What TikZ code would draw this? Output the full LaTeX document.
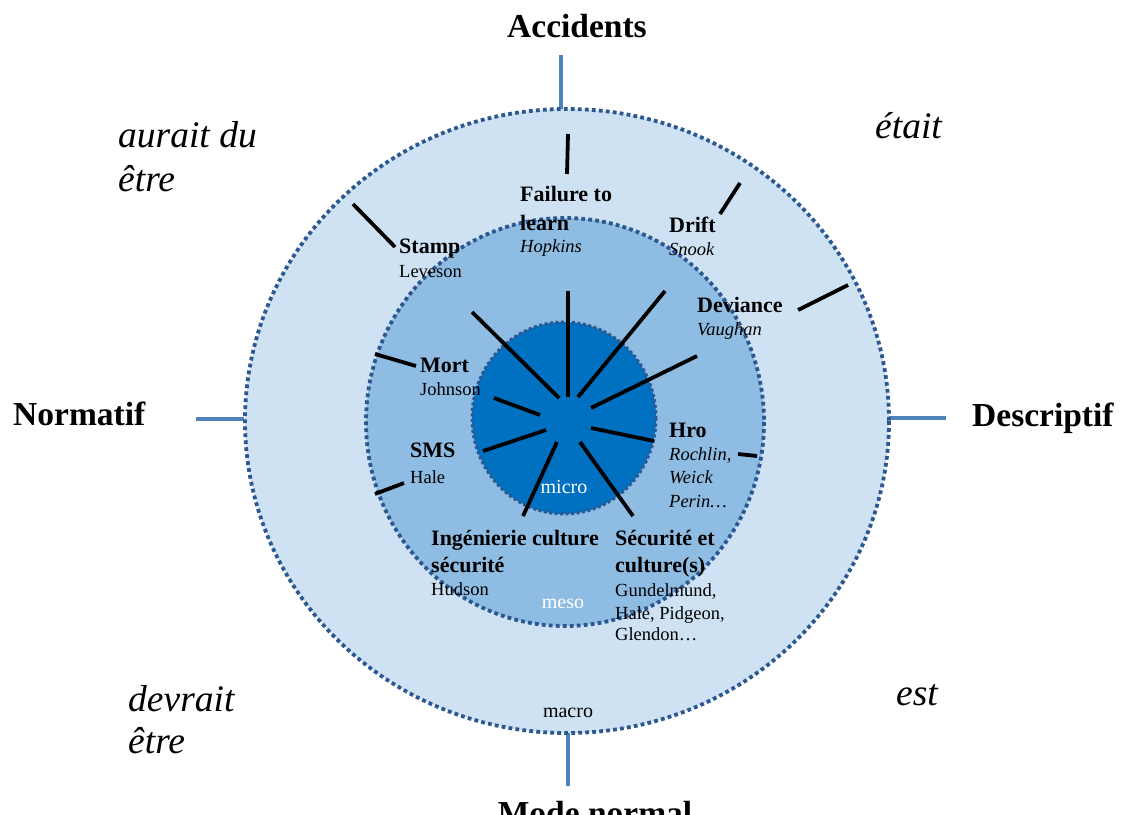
\documentclass[tikz,border=0pt]{standalone}
\usepackage{fontspec}
\setmainfont{Liberation Serif}
\definecolor{ringblue}{RGB}{44,88,145}
\definecolor{axisblue}{RGB}{79,129,189}
\definecolor{outerfill}{RGB}{207,226,243}
\definecolor{midfill}{RGB}{143,188,226}
\definecolor{innerfill}{RGB}{0,112,192}
\tikzset{
  ring/.style={draw=ringblue, line width=3.8pt, dash pattern=on 3.8pt off 3.2pt},
  axisline/.style={draw=axisblue, line width=3.8pt},
  spoke/.style={draw=black, line width=3.8pt},
  big/.style={anchor=base west, inner sep=0pt, font=\fontsize{33.5}{36}\selectfont\bfseries},
  ital/.style={anchor=base west, inner sep=0pt, font=\fontsize{37.5}{40}\selectfont\itshape},
  head/.style={anchor=base west, inner sep=0pt, font=\fontsize{22}{26}\selectfont\bfseries},
  auth/.style={anchor=base west, inner sep=0pt, font=\fontsize{18.5}{22}\selectfont},
  authi/.style={anchor=base west, inner sep=0pt, font=\fontsize{18.5}{22}\selectfont\itshape},
  lvl/.style={anchor=base, inner sep=0pt, font=\fontsize{20}{22}\selectfont},
}
\begin{document}
\begin{tikzpicture}[x=1pt,y=-1pt]
\useasboundingbox (0,0) rectangle (1121,814);
\clip (0,0) rectangle (1121,814);

% axis lines
\coordinate (topA) at (561,55);   \coordinate (topB) at (561,110);
\coordinate (botA) at (568,733);  \coordinate (botB) at (568,786);
\coordinate (lefA) at (196,419);  \coordinate (lefB) at (244,419);
\coordinate (rigA) at (889,418);  \coordinate (rigB) at (946,418);
\draw[axisline] (topA) -- (topB);
\draw[axisline] (botA) -- (botB);
\draw[axisline] (lefA) -- (lefB);
\draw[axisline] (rigA) -- (rigB);

% circles
\draw[ring, fill=outerfill] (567,421) ellipse [x radius=322, y radius=312];
\draw[ring, fill=midfill] (565,422) ellipse [x radius=199, y radius=204];
\draw[ring, fill=innerfill, line width=3pt, dash pattern=on 3pt off 2.5pt] (564,418) ellipse [x radius=92, y radius=96];

% outer spokes
\draw[spoke] (568,134) -- (567,174);
\draw[spoke] (740,183) -- (720,214);
\draw[spoke] (353,204) -- (395,247);
\draw[spoke] (848,285) -- (798,310);
\draw[spoke] (375,354) -- (416,366);
\draw[spoke] (375,494) -- (404,483);
\draw[spoke] (738,454) -- (757,456);

% inner spokes
\draw[spoke] (568,291) -- (568,397);
\draw[spoke] (665,291) -- (578,397);
\draw[spoke] (697,356) -- (591,408);
\draw[spoke] (591,428) -- (654,441);
\draw[spoke] (580,442) -- (633,516);
\draw[spoke] (557,442) -- (523,516);
\draw[spoke] (546,430) -- (483,451);
\draw[spoke] (540,415) -- (494,398);
\draw[spoke] (559,398) -- (472,312);

% big labels
\node[big] (acc) at (507,37) {Accidents};
\node[big] (norm) at (13,425) {Normatif};
\node[big] (desc) at (972,426) {Descriptif};
\node[big, anchor=base] (mode) at (595,824) {Mode normal};

% italic quadrant labels
\node[ital] (aur1) at (118,147) {aurait du};
\node[ital] (aur2) at (118,191) {être};
\node[ital] (etait) at (875,138) {était};
\node[ital] (dev1) at (128,711) {devrait};
\node[ital] (dev2) at (128,753) {être};
\node[ital] (est) at (896,705) {est};

% theories
\node[head] (fail1) at (520,201) {Failure to};
\node[head] (fail2) at (520,230) {learn};
\node[authi] (hopk) at (520,252) {Hopkins};

\node[head] (drift) at (669,232) {Drift};
\node[authi] (snook) at (669,255) {Snook};

\node[head] (stamp) at (399,253) {Stamp};
\node[auth] (leves) at (399,277) {Leveson};

\node[head] (devi) at (697,312) {Deviance};
\node[authi] (vaug) at (697,335) {Vaughan};

\node[head] (mort) at (420,372) {Mort};
\node[auth] (john) at (420,395) {Johnson};

\node[head] (sms) at (410,457) {SMS};
\node[auth] (hale) at (410,483) {Hale};

\node[head] (hro) at (669,437) {Hro};
\node[authi] (roch) at (669,460) {Rochlin,};
\node[authi] (weick) at (669,483) {Weick};
\node[authi] (perin) at (669,507) {Perin…};

\node[head] (ing1) at (431,545) {Ingénierie culture};
\node[head] (ing2) at (431,572) {sécurité};
\node[auth] (huds) at (431,595) {Hudson};

\node[head] (sec1) at (615,545) {Sécurité et};
\node[head] (sec2) at (615,572) {culture(s)};
\node[auth] (gund) at (615,596) {Gundelmund,};
\node[auth] (halep) at (615,619) {Hale, Pidgeon,};
\node[auth] (glen) at (615,640) {Glendon…};

% levels
\node[lvl, text=white] (micro) at (564,493) {micro};
\node[lvl, text=white] (meso) at (563,608) {meso};
\node[lvl] (macro) at (568,717) {macro};
\end{tikzpicture}
\end{document}
